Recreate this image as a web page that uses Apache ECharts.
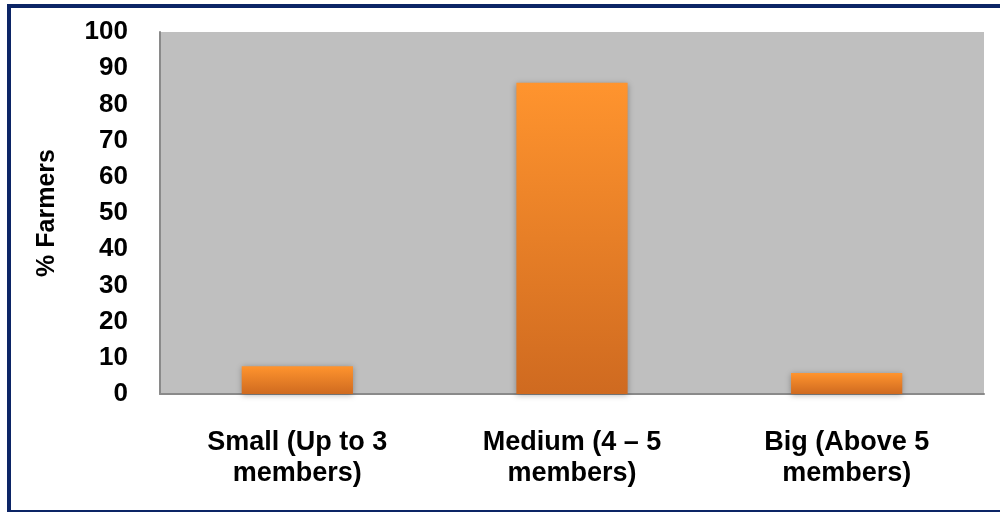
<!DOCTYPE html>
<html>
<head>
<meta charset="utf-8">
<script src="https://cdn.jsdelivr.net/npm/echarts@6/dist/echarts.min.js"></script>
<style>
html,body{margin:0;padding:0;background:#fff;overflow:hidden;}
#chart{position:absolute;left:0;top:0;width:1000px;height:512px;}
#frame{position:absolute;left:7px;top:4px;width:1010px;height:510px;border:4px solid #0c2566;box-sizing:border-box;pointer-events:none;}
</style>
</head>
<body>
<div id="chart"></div>
<div id="frame"></div>
<script>
const categories = ['Small (Up to 3\nmembers)', 'Medium (4 \u2013 5\nmembers)', 'Big (Above 5\nmembers)'];
const values = [7.7, 86, 5.8];
const yTicks = {min: 0, max: 100, interval: 10};
const axisName = '% Farmers';

const narrow = '"Liberation Sans Narrow", "Arial Narrow", "Liberation Sans", Arial, sans-serif';
const chart = echarts.init(document.getElementById('chart'), null, {renderer: 'canvas'});
chart.setOption({
  animation: false,
  backgroundColor: 'transparent',
  grid: {left: 160, right: 16, top: 32, bottom: 118, show: true, backgroundColor: '#bfbfbf', borderWidth: 0},
  xAxis: {
    type: 'category',
    data: categories,
    axisLine: {show: true, lineStyle: {color: '#8a8a8a', width: 2}},
    axisTick: {show: false},
    axisLabel: {
      interval: 0, margin: 33, color: '#000', fontFamily: narrow,
      fontWeight: 'bold', fontSize: 27, lineHeight: 31
    }
  },
  yAxis: {
    type: 'value',
    min: yTicks.min, max: yTicks.max, interval: yTicks.interval,
    name: axisName,
    nameLocation: 'middle',
    nameGap: 100,
    nameRotate: 90,
    nameTextStyle: {color: '#000', fontFamily: '"Liberation Sans", Arial, sans-serif', fontWeight: 'bold', fontSize: 25},
    axisLine: {show: true, lineStyle: {color: '#8a8a8a', width: 2}},
    axisTick: {show: false},
    splitLine: {show: false},
    axisLabel: {margin: 32, color: '#000', fontFamily: narrow, fontWeight: 'bold', fontSize: 26}
  },
  series: [{
    type: 'bar',
    data: values,
    barWidth: '40.5%',
    itemStyle: {
      color: new echarts.graphic.LinearGradient(0, 0, 0, 1, [
        {offset: 0, color: '#ff942e'},
        {offset: 1, color: '#cf6a20'}
      ]),
      shadowBlur: 6,
      shadowColor: 'rgba(0,0,0,0.3)',
      shadowOffsetX: 0,
      shadowOffsetY: 1
    }
  }]
});
</script>
</body>
</html>
